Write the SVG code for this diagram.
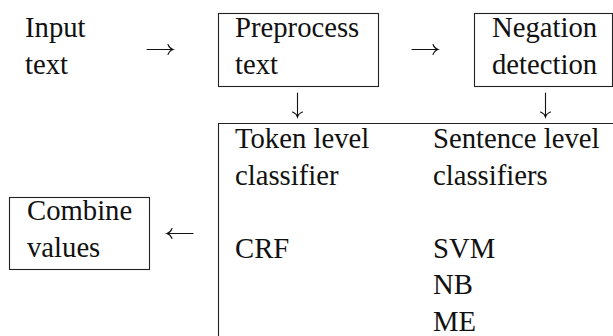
<svg xmlns="http://www.w3.org/2000/svg" width="613" height="336" viewBox="0 0 613 336">
  <style>
    .box { fill: none; stroke: #222; stroke-width: 1.1; }
    .arr { fill: none; stroke: #111; stroke-width: 1.1; stroke-linecap: round; }
  </style>

  <!-- all labels share one serif face -->
  <g font-family="Liberation Serif, Times New Roman, serif" font-size="28.7" fill="#111">
    <g id="input-text">
      <text x="25" y="37">Input</text>
      <text x="25" y="74">text</text>
    </g>

    <g id="preprocess-text">
      <rect class="box" x="218.5" y="13.5" width="160" height="73"/>
      <text x="235" y="37">Preprocess</text>
      <text x="235" y="74">text</text>
    </g>

    <g id="negation-detection">
      <rect class="box" x="474.5" y="13.5" width="138" height="73"/>
      <text x="492" y="37">Negation</text>
      <text x="492" y="74">detection</text>
    </g>

    <g id="classifiers">
      <path class="box" d="M613 123.5 H218.5 V336"/>
      <text x="235" y="148">Token level</text>
      <text x="235" y="184.5">classifier</text>
      <text x="235" y="257.5">CRF</text>
      <text x="433" y="148">Sentence level</text>
      <text x="433" y="184.5">classifiers</text>
      <text x="433" y="257.5">SVM</text>
      <text x="433" y="294">NB</text>
      <text x="433" y="330.5">ME</text>
    </g>

    <g id="combine-values">
      <rect class="box" x="9.5" y="197.5" width="140" height="72"/>
      <text x="27" y="220">Combine</text>
      <text x="27" y="257">values</text>
    </g>
  </g>

  <!-- connectors -->
  <g id="connectors">
    <!-- input -> preprocess -->
    <path class="arr" d="M147 49.5 H173 M168 44.5 Q169.5 48.5 173 49.5 Q169.5 50.5 168 54.5"/>
    <!-- preprocess -> negation -->
    <path class="arr" d="M412 49.5 H438 M433 44.5 Q434.5 48.5 438 49.5 Q434.5 50.5 433 54.5"/>
    <!-- preprocess -> token level -->
    <path class="arr" d="M297.5 93 V117 M292.5 112 Q296.5 113.5 297.5 117 Q298.5 113.5 302.5 112"/>
    <!-- negation -> sentence level -->
    <path class="arr" d="M545.5 93 V117 M540.5 112 Q544.5 113.5 545.5 117 Q546.5 113.5 550.5 112"/>
    <!-- classifiers -> combine -->
    <path class="arr" d="M193 233.5 H167 M172 228.5 Q170.5 232.5 167 233.5 Q170.5 234.5 172 238.5"/>
  </g>
</svg>
